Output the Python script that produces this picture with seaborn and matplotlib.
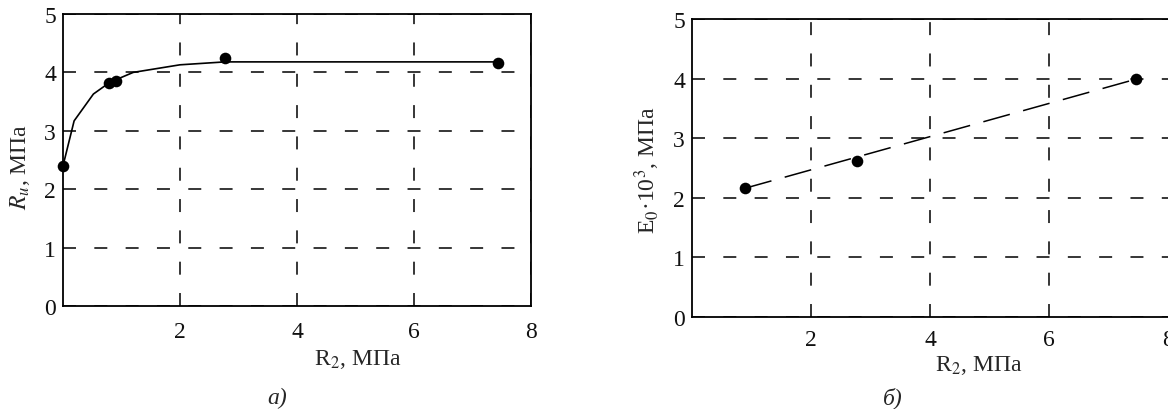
import matplotlib
matplotlib.use("Agg")
import matplotlib.pyplot as plt
import seaborn as sns
import pandas as pd

# --- data ---
# panel a): R_u vs R2
a_pts_x = [0.0, 0.79, 0.90, 2.77, 7.44]
a_pts_y = [2.40, 3.82, 3.85, 4.24, 4.16]
a_curve_x = [0.0, 0.19, 0.52, 0.80, 1.20, 2.0, 2.77, 7.44]
a_curve_y = [2.40, 3.17, 3.63, 3.83, 4.00, 4.13, 4.18, 4.18]

# panel b): E0*10^3 vs R2
b_x = [0.89, 2.77, 7.46]
b_y = [2.16, 2.61, 3.99]

y_ticks = [0, 1, 2, 3, 4, 5]
x_ticks = [2, 4, 6, 8]

sns.set_style("white")
plt.rcParams['font.family'] = ['Liberation Serif', 'DejaVu Serif']
plt.rcParams['mathtext.fontset'] = 'stix'
FS = 17
plt.rcParams['font.size'] = FS

fig = plt.figure(figsize=(11.68, 4.10), dpi=100)
W, H = 1168, 410
ax_a = fig.add_axes([63 / W, (H - 307) / H, 468 / W, 292 / H])
ax_b = fig.add_axes([692 / W, (H - 318) / H, 476 / W, 298 / H])

df_a_curve = pd.DataFrame({'x': a_curve_x, 'y': a_curve_y})
df_a_pts = pd.DataFrame({'x': a_pts_x, 'y': a_pts_y})
df_b = pd.DataFrame({'x': b_x, 'y': b_y})

sns.lineplot(ax=ax_a, data=df_a_curve, x='x', y='y', sort=False, estimator=None,
             color='black', linewidth=1.2, zorder=3)
sns.scatterplot(ax=ax_a, data=df_a_pts, x='x', y='y', color='black', s=70,
                edgecolor='black', linewidth=0, zorder=4, clip_on=False)

sns.lineplot(ax=ax_b, x=[b_x[0], b_x[-1]], y=[b_y[0], b_y[-1]], color='black',
             linewidth=1.1, zorder=3, dashes=False, linestyle=(0, (18, 9)))
sns.scatterplot(ax=ax_b, data=df_b, x='x', y='y', color='black', s=70,
                edgecolor='black', linewidth=0, zorder=4, clip_on=False)

for ax in (ax_a, ax_b):
    ax.set_xlim(0, 8)
    ax.set_ylim(0, 5)
    ax.set_xticks(x_ticks)
    ax.set_yticks(y_ticks)
    ax.tick_params(length=0, labelsize=FS, labelcolor='#111111')
    ax.tick_params(axis='y', pad=5)
    ax.grid(True, color='black', linewidth=1.1, linestyle=(0, (8.5, 12)))
    ax.set_axisbelow(True)
    for sp in ax.spines.values():
        sp.set_color('black')
        sp.set_linewidth(1.3)

ax_a.tick_params(axis='x', pad=11)
ax_b.tick_params(axis='x', pad=9)

# right panel has no right frame; hide the grid line at x=8
ax_b.spines['right'].set_visible(False)
ax_b.xaxis.get_major_ticks()[-1].gridline.set_visible(False)

ax_a.set_xlabel('R$_2$, МПа', fontsize=FS, va='center')
ax_a.xaxis.set_label_coords(0.63, -0.18)
ax_a.set_ylabel('$R_u$, МПа', fontsize=FS, va='center', rotation_mode='anchor')
ax_a.yaxis.set_label_coords(-0.092, 0.48)

ax_b.set_xlabel('R$_2$, МПа', fontsize=FS, va='center')
ax_b.xaxis.set_label_coords(0.603, -0.158)
ax_b.set_ylabel('E$_0$·10$^3$, МПа', fontsize=FS, va='center', rotation_mode='anchor')
ax_b.yaxis.set_label_coords(-0.095, 0.497)

fig.text(277 / W, (H - 398) / H, 'а)', fontsize=FS, style='italic', ha='center', va='center')
fig.text(893 / W, (H - 398) / H, 'б)', fontsize=FS, style='italic', ha='center', va='center')

fig.savefig('out.png', dpi=100)
